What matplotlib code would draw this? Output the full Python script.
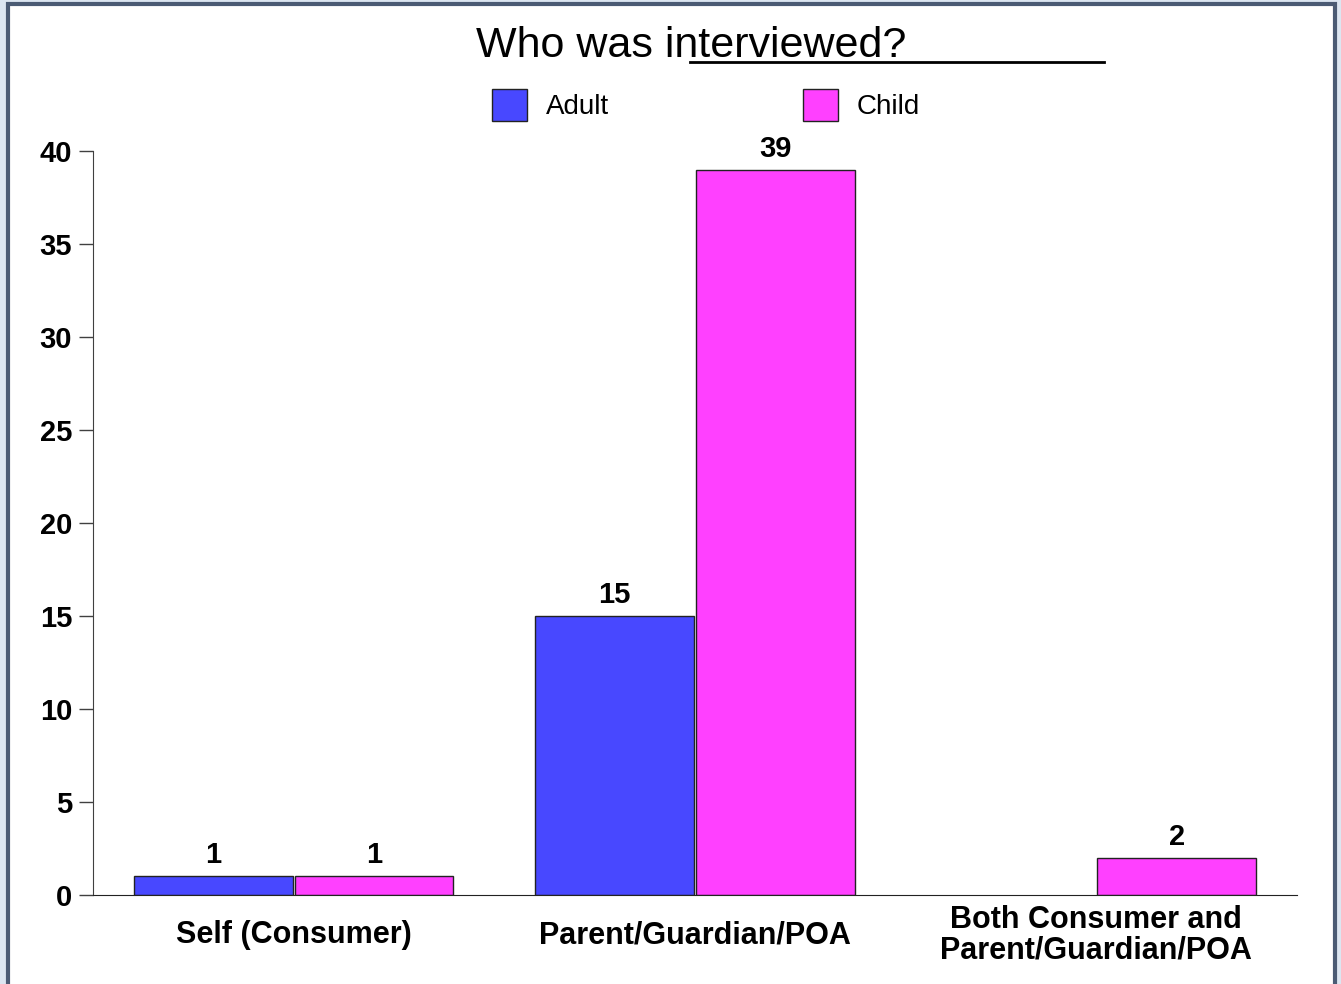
import numpy as np
import matplotlib
matplotlib.use("Agg")
import matplotlib.pyplot as plt
from matplotlib.patches import Rectangle
from matplotlib.lines import Line2D

plt.rcParams['font.family'] = ['Liberation Sans', 'DejaVu Sans']

categories = ['Self (Consumer)', 'Parent/Guardian/POA', 'Both Consumer and\nParent/Guardian/POA']
adult = [1, 15, 0]
child = [1, 39, 2]
series_names = ['Adult', 'Child']
yticks = [0, 5, 10, 15, 20, 25, 30, 35, 40]

blue = '#4848FF'
pink = '#FF40FF'

W, H = 1341, 984
fig = plt.figure(figsize=(W / 100, H / 100), dpi=100, facecolor='#dce6f1')

# framed white panel
fig.patches.append(Rectangle((8 / W, -0.05), (1335 - 8) / W, 1.05 - 4 / H,
                             transform=fig.transFigure, facecolor='white',
                             edgecolor='#4b5b74', linewidth=3, zorder=-1))

ax = fig.add_axes([93 / W, 1 - 895 / H, (1297 - 93) / W, (895 - 151) / H])
ax.set_facecolor('none')
ax.set_zorder(1)

x = np.arange(len(categories))
w = 0.395
b1 = ax.bar(x - 0.2, adult, w, color=blue, edgecolor='#222222', linewidth=1, label=series_names[0])
b2 = ax.bar(x + 0.2, child, w, color=pink, edgecolor='#222222', linewidth=1, label=series_names[1])

# value labels above bars, empty bars hidden
for bars, vals in ((b1, adult), (b2, child)):
    for bar, v in zip(bars, vals):
        if v == 0:
            bar.set_visible(False)
            continue
        ax.annotate(f'{v}', (bar.get_x() + bar.get_width() / 2, v),
                    xytext=(0, 5), textcoords='offset points',
                    ha='center', va='bottom', fontsize=21, fontweight='bold')

ax.set_xlim(-0.5, 2.5)
ax.set_ylim(0, 40)
ax.set_yticks(yticks)
ax.tick_params(axis='y', length=10, width=1, color='#404040', pad=5, labelsize=21)
for lab in ax.get_yticklabels():
    lab.set_fontweight('bold')

ax.set_xticks(x)
ax.set_xticklabels(categories, fontsize=22, fontweight='bold', linespacing=1.0)
ax.tick_params(axis='x', length=0, pad=29)
for lab in ax.get_xticklabels():
    lab.set_va('center')

for s in ('top', 'right'):
    ax.spines[s].set_visible(False)
ax.spines['left'].set_color('#404040')
ax.spines['bottom'].set_color('#222222')

# title with underline
fig.text(691 / W, 1 - 46 / H, 'Who was interviewed?', ha='center', va='center', fontsize=31)
fig.add_artist(Line2D([690 / W, 1104 / W], [1 - 62 / H, 1 - 62 / H],
                      transform=fig.transFigure, color='black', linewidth=2))

fig.legend(handles=[b1, b2], loc='center', bbox_to_anchor=(706 / W, 1 - 105 / H),
           ncol=2, frameon=False, fontsize=20, handlelength=1.26, handleheight=1.35,
           handletextpad=0.68, columnspacing=7.0, borderpad=0)

fig.savefig('out.png', dpi=100, facecolor=fig.get_facecolor())
